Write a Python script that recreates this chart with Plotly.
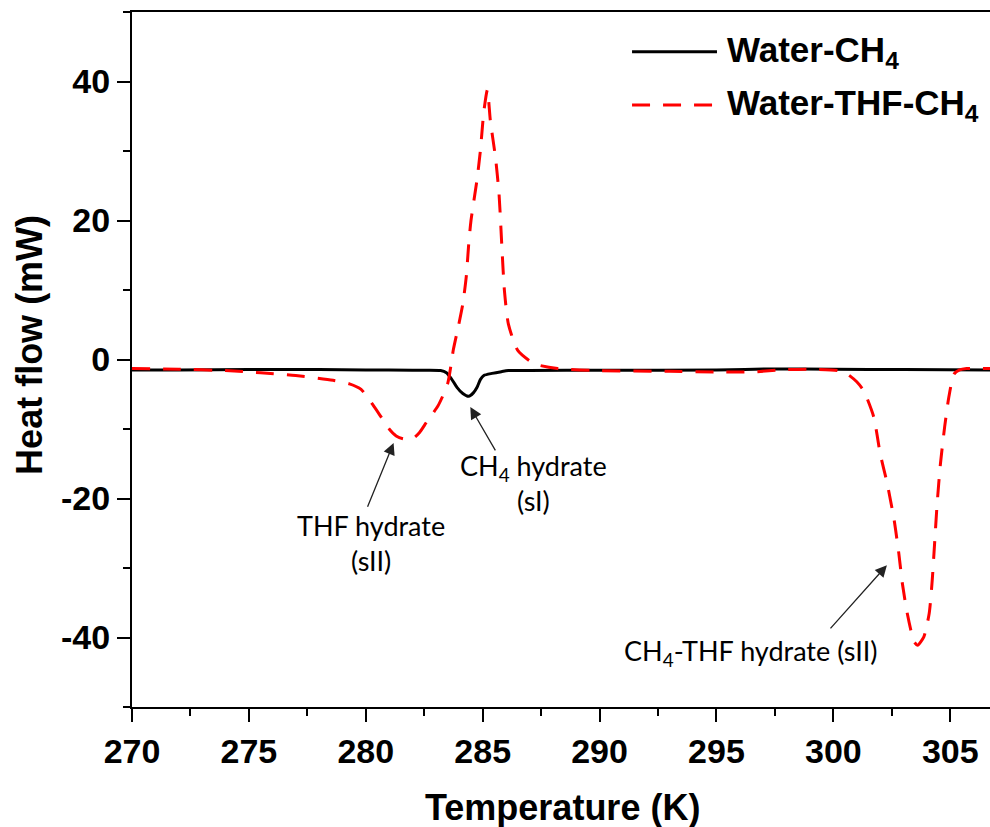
import plotly.graph_objects as go

# DSC heat-flow traces (temperature in K, heat flow in mW)
temp_water_ch4 = [270, 272, 275, 278, 280, 282, 283.2, 283.45, 283.65, 283.9, 284.15,
                  284.4, 284.6, 284.76, 284.9, 285.05, 285.4, 285.8, 286.1, 287, 290,
                  295, 297.5, 300, 303, 306.7]
flow_water_ch4 = [-1.5, -1.5, -1.45, -1.45, -1.5, -1.55, -1.58, -1.9, -2.7, -4.0, -4.9,
                  -5.3, -4.8, -4.0, -2.9, -2.3, -2.0, -1.75, -1.6, -1.58, -1.55,
                  -1.5, -1.35, -1.4, -1.45, -1.5]

temp_water_thf_ch4 = [270, 272, 274, 275.5, 277, 278.6, 279.3, 279.8, 280.3, 280.7, 281.0,
                      281.3, 281.6, 282.0, 282.3, 282.6, 283.1, 283.5, 283.75, 283.95,
                      284.15, 284.3, 284.4, 284.5, 284.75, 284.9, 285.05, 285.2, 285.33,
                      285.55, 285.7, 285.83, 285.93, 286.1, 286.5, 287.2, 288.2, 290,
                      293, 295, 296.5, 297.7, 299, 300.2, 300.6, 301.0, 301.3, 301.73,
                      302.0, 302.3, 302.6, 302.8, 302.95, 303.16, 303.45, 303.6, 303.87,
                      304.1, 304.23, 304.33, 304.44, 304.58, 304.76, 304.94, 305.16,
                      305.4, 305.7, 306.7]
flow_water_thf_ch4 = [-1.3, -1.4, -1.6, -1.9, -2.3, -3.0, -3.5, -4.3, -6.5, -8.5, -10.0,
                      -11.0, -11.4, -11.4, -10.5, -9.0, -6.6, -3.5, 1.5, 4.6,
                      8.0, 12.0, 16.5, 20.0, 25.7, 30.0, 35.7, 38.8, 34.3,
                      29.0, 23.8, 15.6, 9.9, 5.1, 1.3, -0.6, -1.3, -1.6,
                      -1.7, -1.8, -1.8, -1.5, -1.4, -1.6, -2.1, -3.2, -4.5, -8.3,
                      -13.5, -17.8, -23.1, -27.9, -32.2, -36.5, -40.6, -41.1, -39.9,
                      -36.5, -31.7, -26.5, -20.7, -15.0, -9.7, -5.4, -2.1,
                      -1.5, -1.3, -1.3]

x_tick_vals = [270, 275, 280, 285, 290, 295, 300, 305]
x_tick_text = ["270", "275", "280", "285", "290", "295", "300", "305"]
y_tick_vals = [-40, -20, 0, 20, 40]
y_tick_text = ["-40", "-20", "0", "20", "40"]

series_names = ["Water-CH<sub>4</sub>", "Water-THF-CH<sub>4</sub>"]

# Peak labels: (text, text x, text y, arrow tail x, arrow tail y, arrow tip x, arrow tip y)
peak_labels = [
    ("THF hydrate<br>(sII)", 280.23, -26.4, 280.05, -21.4, 281.19, -12.0),
    ("CH<sub>4</sub> hydrate<br>(sI)", 287.18, -17.8, 285.58, -13.3, 284.47, -6.85),
    ("CH<sub>4</sub>-THF hydrate (sII)", 296.48, -42.2, 299.82, -38.9, 302.29, -29.6),
]

BOLD = dict(family="Liberation Sans, Arial, sans-serif", color="black", weight="bold")
LABEL_FONT = dict(family="Lato, sans-serif", size=27, color="black")

fig = go.Figure()
fig.add_trace(go.Scatter(
    x=temp_water_ch4, y=flow_water_ch4, mode="lines", name=series_names[0],
    line=dict(color="black", width=3, shape="spline", smoothing=0.6),
    showlegend=False,
))
fig.add_trace(go.Scatter(
    x=temp_water_thf_ch4, y=flow_water_thf_ch4, mode="lines", name=series_names[1],
    line=dict(color="#ff0000", width=3, dash="18px,13px", shape="spline", smoothing=0.6),
    showlegend=False,
))

# Legend drawn as line samples with labels in the upper right
legend_rows = [(0.9429, "black", "solid"), (0.8662, "#ff0000", "18px,13px")]
for (ly, color, dash), name in zip(legend_rows, series_names):
    fig.add_shape(type="line", xref="paper", yref="paper",
                  x0=0.5828, x1=0.6818, y0=ly, y1=ly,
                  line=dict(color=color, width=3, dash=dash))
    fig.add_annotation(xref="paper", yref="paper", x=0.6911, y=ly,
                       xanchor="left", yanchor="middle", showarrow=False,
                       text=name, font=dict(BOLD, size=35))

for text, tx, ty, ax, ay, hx, hy in peak_labels:
    fig.add_annotation(x=tx, y=ty, text=text, showarrow=False,
                       xanchor="center", yanchor="middle", font=LABEL_FONT)
    fig.add_annotation(x=hx, y=hy, ax=ax, ay=ay, axref="x", ayref="y",
                       text="", showarrow=True, arrowhead=2, arrowsize=1.8,
                       arrowwidth=1.3, arrowcolor="#222222")

# Axis titles
fig.add_annotation(xref="paper", yref="paper", x=0.5023, y=-0.1439,
                   text="Temperature (K)", showarrow=False,
                   xanchor="center", yanchor="middle", font=dict(BOLD, size=36))
fig.add_annotation(xref="paper", yref="paper", x=-0.1189, y=0.521,
                   text="Heat flow (mW)", showarrow=False, textangle=-90,
                   xanchor="center", yanchor="middle", font=dict(BOLD, size=36))

fig.update_xaxes(
    range=[270, 306.7], tickvals=x_tick_vals, ticktext=x_tick_text,
    ticks="outside", ticklen=13, tickwidth=2, tickcolor="black",
    minor=dict(dtick=2.5, tick0=270, ticks="outside", ticklen=7, tickwidth=2,
               tickcolor="black"),
    showline=True, linecolor="black", linewidth=2, mirror=True,
    showgrid=False, zeroline=False, tickfont=dict(BOLD, size=34),
)
fig.update_yaxes(
    range=[-50, 50], tickvals=y_tick_vals, ticktext=y_tick_text,
    ticks="outside", ticklen=13, tickwidth=2, tickcolor="black",
    minor=dict(dtick=10, tick0=0, ticks="outside", ticklen=7, tickwidth=2,
               tickcolor="black"),
    showline=True, linecolor="black", linewidth=2,
    showgrid=False, zeroline=False, tickfont=dict(BOLD, size=34),
)
fig.update_layout(
    width=990, height=827,
    margin=dict(l=132, r=0, t=12, b=120),
    plot_bgcolor="white", paper_bgcolor="white",
)

fig.write_html("out.html")
